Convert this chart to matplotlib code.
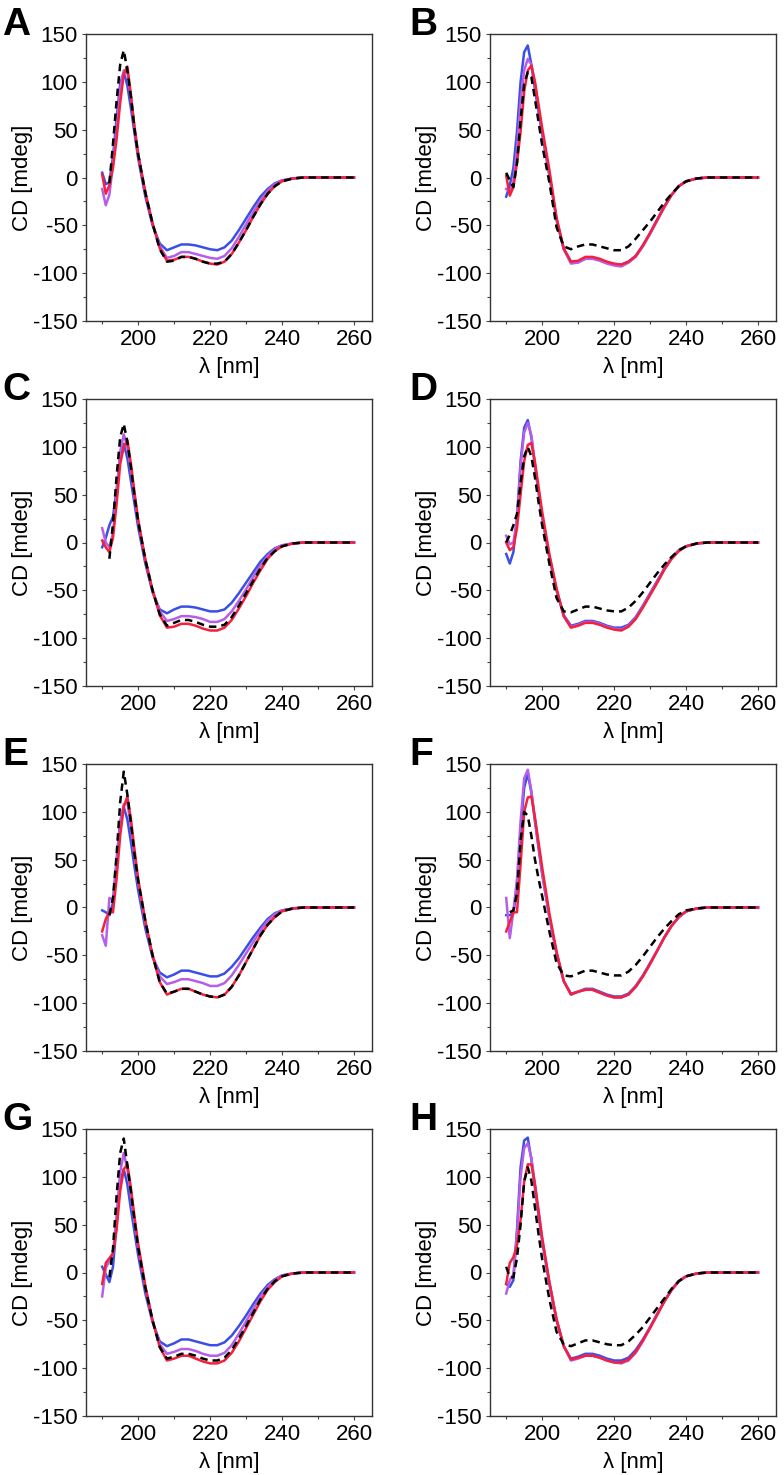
import numpy as np
import matplotlib
matplotlib.use("Agg")
import matplotlib.pyplot as plt

plt.rcParams['font.family'] = ['Liberation Sans', 'DejaVu Sans']
plt.rcParams['axes.unicode_minus'] = False

nan = np.nan

# wavelength grid (nm)
wl = [190, 191, 192, 193, 194, 195, 196, 197, 198, 199, 200, 202, 204, 206, 208,
      210, 212, 214, 216, 218, 220, 222, 224, 226, 228, 230, 232, 234, 236, 238,
      240, 243, 246, 250, 255, 260]

# panel A
a_blue = [5, -7, -5, 22, 62, 98, 110, 96, 72, 46, 20, -20, -50, -69, -76, -73, -70, -70, -71, -73, -75, -76, -73, -66, -55, -43, -31, -20, -12, -6, -3, -1, 0, 0, 0, 0]
a_violet = [-12, -29, -18, 14, 52, 92, 112, 110, 84, 52, 24, -16, -48, -72, -84, -82, -78, -78, -80, -82, -84, -85, -82, -74, -62, -49, -36, -24, -14, -7, -3, -1, 0, 0, 0, 0]
a_red = [3, -17, -8, 10, 40, 78, 108, 116, 86, 52, 25, -16, -48, -74, -87, -86, -83, -83, -85, -88, -90, -91, -88, -80, -68, -55, -41, -28, -17, -9, -4, -1, 0, 0, 0, 0]
a_black = [nan, nan, -6, 35, 80, 118, 133, 112, 84, 50, 24, -16, -48, -75, -88, -87, -83, -83, -85, -88, -90, -90, -88, -80, -68, -55, -41, -28, -17, -9, -4, -1, 0, 0, 0, 0]

# panel B
b_blue = [-20, -8, 10, 48, 100, 131, 138, 118, 92, 68, 45, 2, -44, -75, -88, -88, -85, -84, -86, -89, -91, -91, -88, -82, -71, -58, -44, -30, -18, -9, -4, -1, 0, 0, 0, 0]
b_violet = [-12, -15, -4, 30, 80, 112, 124, 118, 98, 72, 48, 4, -44, -75, -90, -89, -85, -85, -87, -90, -92, -93, -89, -83, -72, -59, -45, -31, -18, -9, -4, -1, 0, 0, 0, 0]
b_red = [2, -19, -10, 15, 48, 90, 112, 117, 100, 76, 52, 8, -42, -74, -88, -87, -83, -83, -85, -88, -90, -91, -88, -82, -71, -58, -44, -30, -18, -9, -4, -1, 0, 0, 0, 0]
b_black = [5, -3, -10, 15, 60, 98, 110, 105, 82, 58, 34, -5, -52, -72, -75, -72, -70, -70, -72, -74, -76, -76, -72, -64, -55, -46, -36, -26, -17, -9, -4, -1, 0, 0, 0, 0]

# panel C
c_blue = [-5, 5, 18, 27, 55, 90, 103, 88, 64, 40, 16, -22, -52, -70, -74, -70, -67, -67, -68, -70, -72, -72, -70, -63, -53, -42, -31, -20, -12, -6, -3, -1, 0, 0, 0, 0]
c_violet = [15, 0, -5, 10, 50, 95, 113, 100, 76, 48, 22, -18, -50, -72, -82, -80, -77, -77, -78, -80, -83, -83, -80, -72, -61, -49, -36, -24, -14, -7, -3, -1, 0, 0, 0, 0]
c_red = [2, -5, -10, 5, 40, 82, 100, 107, 82, 52, 24, -18, -50, -76, -89, -88, -85, -85, -87, -90, -92, -92, -89, -81, -69, -56, -42, -29, -17, -9, -4, -1, 0, 0, 0, 0]
c_black = [nan, nan, -17, 20, 69, 110, 124, 105, 78, 48, 22, -18, -50, -75, -87, -84, -81, -81, -83, -86, -88, -88, -86, -78, -66, -53, -40, -27, -16, -9, -4, -1, 0, 0, 0, 0]

# panel D
d_blue = [-12, -22, -10, 25, 85, 120, 128, 110, 80, 52, 26, -16, -50, -76, -87, -85, -82, -82, -84, -87, -89, -89, -86, -78, -66, -53, -40, -27, -16, -8, -4, -1, 0, 0, 0, 0]
d_violet = [7, -2, 0, 25, 80, 115, 125, 112, 82, 54, 28, -14, -50, -77, -88, -86, -83, -83, -85, -88, -90, -91, -87, -79, -67, -54, -41, -28, -16, -8, -4, -1, 0, 0, 0, 0]
d_red = [0, -8, -5, 15, 50, 85, 102, 104, 84, 58, 32, -12, -48, -77, -89, -87, -84, -84, -86, -89, -91, -92, -88, -80, -68, -55, -42, -28, -17, -9, -4, -1, 0, 0, 0, 0]
d_black = [0, 8, 18, 30, 62, 90, 100, 90, 68, 42, 18, -22, -58, -72, -73, -70, -67, -67, -69, -71, -72, -72, -68, -61, -52, -42, -32, -23, -15, -8, -4, -1, 0, 0, 0, 0]

# panel E
e_blue = [-3, -5, -8, 5, 50, 90, 105, 92, 68, 42, 18, -22, -52, -68, -73, -70, -66, -66, -68, -70, -72, -72, -69, -62, -53, -42, -31, -21, -12, -6, -3, -1, 0, 0, 0, 0]
e_violet = [-29, -40, 10, 8, 45, 88, 108, 110, 84, 54, 26, -16, -50, -72, -80, -78, -75, -75, -77, -79, -82, -82, -79, -71, -60, -48, -36, -24, -14, -7, -3, -1, 0, 0, 0, 0]
e_red = [-25, -12, -5, -5, 30, 75, 105, 116, 92, 60, 30, -14, -50, -78, -91, -88, -85, -85, -88, -91, -93, -94, -91, -83, -71, -57, -43, -29, -18, -10, -4, -1, 0, 0, 0, 0]
e_black = [nan, nan, -8, 10, 55, 110, 142, 118, 88, 55, 28, -14, -50, -78, -90, -88, -85, -85, -88, -91, -93, -94, -91, -83, -71, -57, -43, -29, -18, -10, -4, -1, 0, 0, 0, 0]

# panel F
f_blue = [-8, -8, -6, 20, 80, 125, 140, 120, 90, 62, 35, -10, -48, -77, -90, -88, -85, -85, -88, -91, -93, -93, -90, -82, -71, -58, -45, -31, -19, -10, -4, -1, 0, 0, 0, 0]
f_violet = [10, -32, -4, 30, 90, 135, 144, 122, 92, 64, 36, -10, -48, -77, -91, -88, -86, -86, -89, -92, -94, -94, -91, -83, -72, -59, -45, -31, -19, -10, -4, -1, 0, 0, 0, 0]
f_red = [-25, -15, -5, -5, 45, 100, 115, 116, 94, 68, 42, -6, -46, -77, -91, -88, -86, -86, -89, -92, -94, -94, -91, -83, -72, -59, -45, -31, -19, -10, -4, -1, 0, 0, 0, 0]
f_black = [nan, -5, -3, 15, 70, 100, 96, 75, 50, 30, 12, -25, -58, -71, -72, -69, -66, -66, -68, -70, -71, -71, -67, -60, -51, -41, -31, -22, -14, -7, -3, -1, 0, 0, 0, 0]

# panel G
g_blue = [6, -2, -10, 6, 50, 95, 108, 92, 66, 42, 18, -22, -52, -72, -77, -74, -70, -70, -72, -74, -76, -76, -73, -66, -56, -45, -33, -22, -13, -7, -3, -1, 0, 0, 0, 0]
g_violet = [-25, 5, 12, 20, 60, 105, 125, 108, 80, 52, 26, -16, -50, -75, -85, -83, -80, -80, -82, -85, -87, -87, -84, -76, -64, -51, -38, -25, -15, -8, -3, -1, 0, 0, 0, 0]
g_red = [-12, 10, 15, 20, 45, 85, 108, 113, 88, 58, 30, -14, -50, -78, -92, -90, -87, -87, -90, -93, -95, -95, -92, -84, -72, -58, -44, -30, -18, -10, -4, -1, 0, 0, 0, 0]
g_black = [nan, nan, -5, 25, 80, 125, 140, 112, 84, 54, 26, -16, -50, -78, -90, -88, -85, -85, -87, -90, -92, -92, -89, -81, -69, -56, -42, -28, -17, -9, -4, -1, 0, 0, 0, 0]

# panel H
h_blue = [-12, -15, -8, 45, 110, 138, 141, 118, 88, 60, 33, -12, -50, -77, -90, -88, -85, -85, -87, -90, -92, -92, -89, -81, -70, -57, -43, -30, -18, -9, -4, -1, 0, 0, 0, 0]
h_violet = [-22, -8, -2, 40, 100, 130, 135, 120, 92, 64, 36, -10, -49, -77, -92, -90, -87, -87, -89, -92, -94, -95, -92, -84, -72, -58, -44, -30, -18, -9, -4, -1, 0, 0, 0, 0]
h_red = [-12, 10, 16, 28, 55, 95, 113, 113, 92, 64, 36, -10, -49, -77, -91, -89, -87, -87, -89, -92, -94, -94, -91, -83, -71, -58, -44, -30, -18, -9, -4, -1, 0, 0, 0, 0]
h_black = [6, -5, -5, 15, 50, 95, 110, 96, 68, 40, 14, -28, -62, -75, -77, -74, -71, -71, -73, -75, -76, -76, -72, -65, -57, -47, -37, -27, -17, -9, -4, -1, 0, 0, 0, 0]

panels = [
    ("A", a_blue, a_violet, a_red, a_black),
    ("B", b_blue, b_violet, b_red, b_black),
    ("C", c_blue, c_violet, c_red, c_black),
    ("D", d_blue, d_violet, d_red, d_black),
    ("E", e_blue, e_violet, e_red, e_black),
    ("F", f_blue, f_violet, f_red, f_black),
    ("G", g_blue, g_violet, g_red, g_black),
    ("H", h_blue, h_violet, h_red, h_black),
]

W, H = 784, 1475
fig = plt.figure(figsize=(W / 100, H / 100), dpi=100)

lefts = [86, 490]
tops = [34, 399, 764, 1129]
aw, ah = 286, 287

for i, (letter, blue, violet, red, black) in enumerate(panels):
    row, col = i // 2, i % 2
    x0 = lefts[col]
    y0 = tops[row]
    ax = fig.add_axes([x0 / W, 1 - (y0 + ah) / H, aw / W, ah / H])

    ax.plot(wl, blue, color='#3b4ee6', lw=1.8)
    ax.plot(wl, violet, color='#b65ee8', lw=1.8)
    ax.plot(wl, red, color='#f5203c', lw=1.8)
    ax.plot(wl, black, color='black', lw=1.8, ls=(0, (3, 2)))

    ax.set_xlim(185.5, 265)
    ax.set_ylim(-150, 150)
    ax.set_xticks([200, 220, 240, 260])
    ax.set_xticks([190, 210, 230, 250], minor=True)
    ax.set_yticks(np.arange(-150, 151, 50))
    ax.set_yticks(np.arange(-125, 150, 50), minor=True)
    ax.tick_params(which='major', direction='out', length=3, width=0.8,
                   labelsize=16, pad=3, color='#444444')
    ax.tick_params(which='minor', direction='out', length=2, width=0.8,
                   color='#444444')
    for s in ax.spines.values():
        s.set_color('#333333')
        s.set_linewidth(1.0)

    ax.set_ylabel("CD [mdeg]", fontsize=16)
    ax.yaxis.set_label_coords(-0.185, 0.5)
    ax.set_xlabel("λ [nm]", fontsize=16)
    ax.xaxis.set_label_coords(0.5, -0.125)

    fig.text((2 + col * 407) / W, 1 - (y0 + 1) / H, letter,
             fontsize=28, fontweight='bold', va='baseline', ha='left')

fig.savefig("out.png", dpi=100)
